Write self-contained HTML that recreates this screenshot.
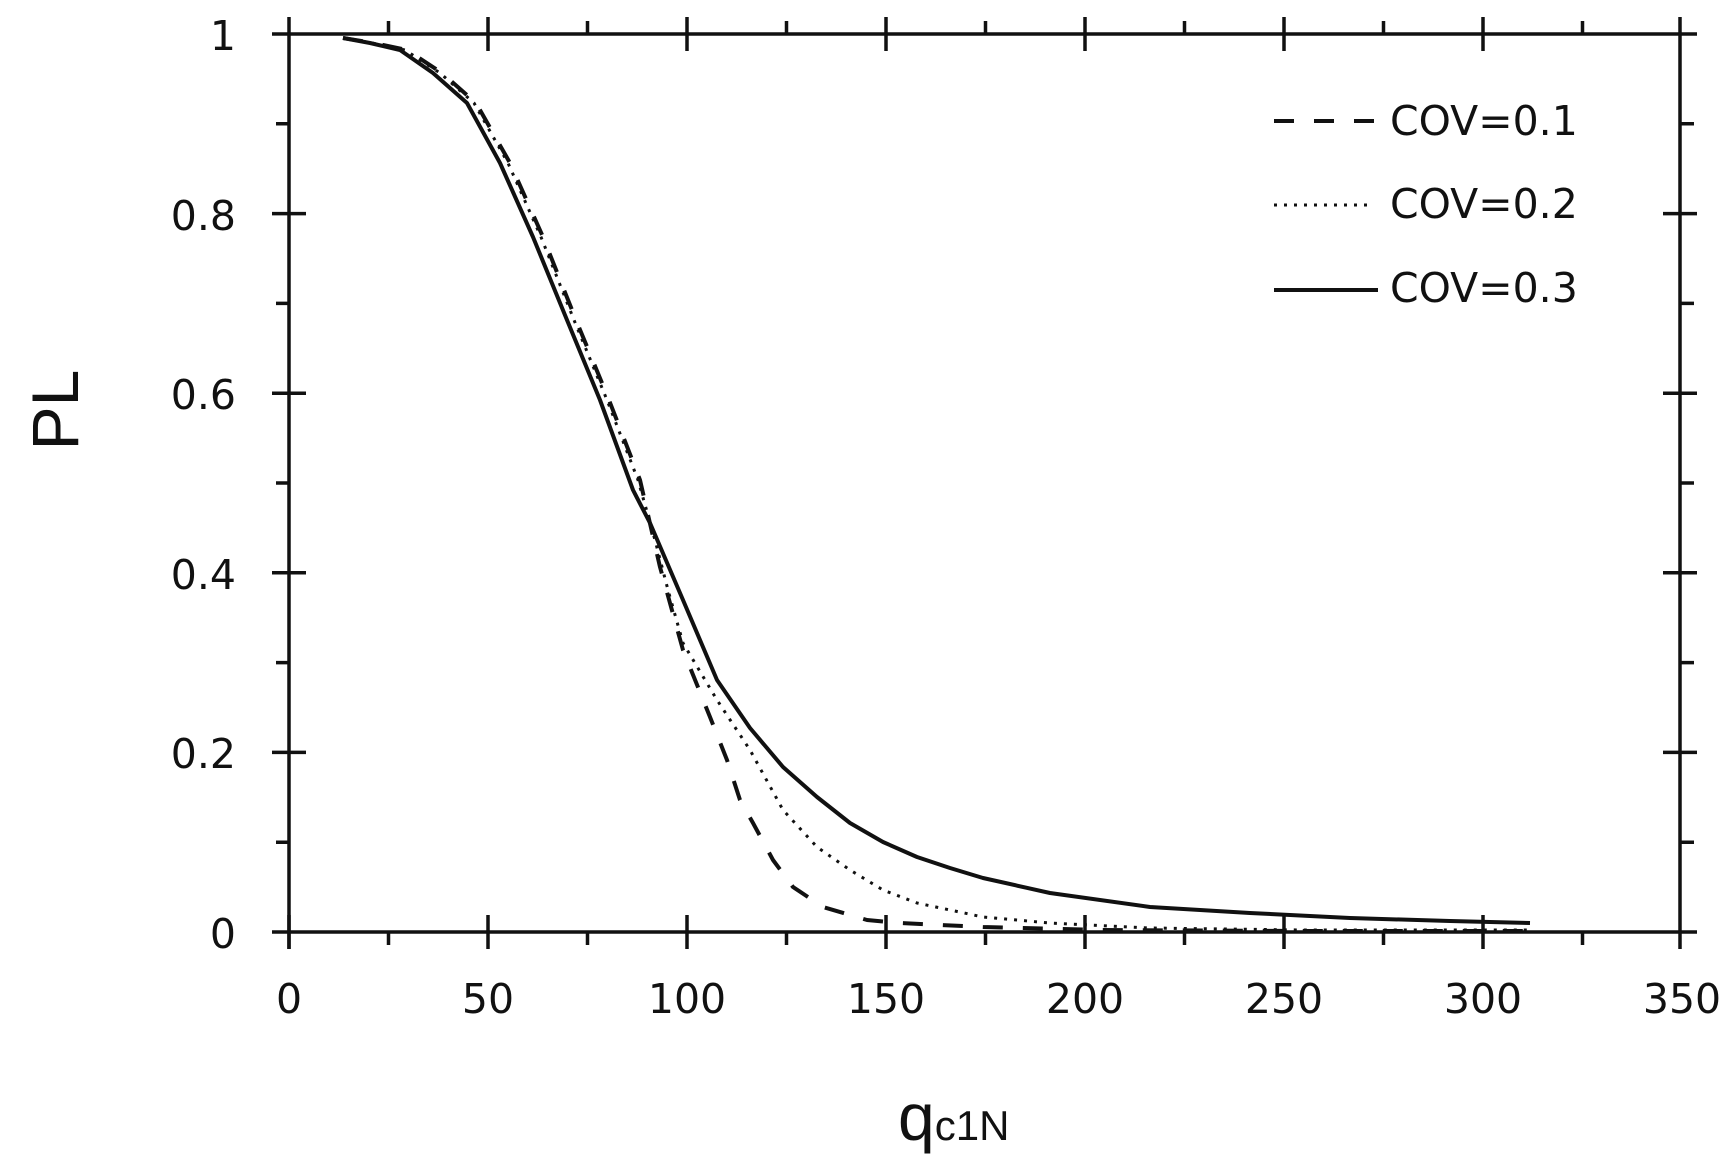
<!DOCTYPE html>
<html><head><meta charset="utf-8"><style>
html,body{margin:0;padding:0;background:#fff;}
svg{display:block;}
text{font-family:"DejaVu Sans",sans-serif;fill:#111;}
</style></head><body>
<svg width="1731" height="1174" viewBox="0 0 1731 1174" xmlns="http://www.w3.org/2000/svg">
<g stroke="#111" stroke-width="3.5" fill="none">
<line x1="272" y1="932" x2="1697" y2="932"/>
<line x1="272" y1="34" x2="1697" y2="34"/>
<line x1="289" y1="17" x2="289" y2="949"/>
<line x1="1680" y1="17" x2="1680" y2="949"/>
<!-- x major -->
<path d="M289 915V949M488 915V949M687 915V949M886 915V949M1085 915V949M1284 915V949M1483 915V949
M488 17V51M687 17V51M886 17V51M1085 17V51M1284 17V51M1483 17V51"/>
<!-- x minor -->
<path d="M388.5 932V945M587.5 932V945M786.5 932V945M985.5 932V945M1184.5 932V945M1383.5 932V945M1582.5 932V945
M388.5 21V34M587.5 21V34M786.5 21V34M985.5 21V34M1184.5 21V34M1383.5 21V34M1582.5 21V34"/>
<!-- y major -->
<path d="M272 752.4H306M272 572.8H306M272 393.2H306M272 213.6H306
M1663 752.4H1697M1663 572.8H1697M1663 393.2H1697M1663 213.6H1697"/>
<!-- y minor -->
<path d="M276 842.2H289M276 662.6H289M276 483H289M276 303.4H289M276 123.8H289
M1680 842.2H1694M1680 662.6H1694M1680 483H1694M1680 303.4H1694M1680 123.8H1694"/>
</g>
<g font-size="41" text-anchor="end">
<text x="236" y="948">0</text>
<text x="236" y="768">0.2</text>
<text x="236" y="589">0.4</text>
<text x="236" y="409">0.6</text>
<text x="236" y="230">0.8</text>
<text x="236" y="50">1</text>
</g>
<g font-size="41" text-anchor="middle">
<text x="289" y="1013">0</text>
<text x="488" y="1013">50</text>
<text x="687" y="1013">100</text>
<text x="886" y="1013">150</text>
<text x="1085" y="1013">200</text>
<text x="1284" y="1013">250</text>
<text x="1483" y="1013">300</text>
<text x="1682" y="1013">350</text>
</g>
<text transform="translate(78,410) rotate(-90)" text-anchor="middle" font-size="66" style="font-family:'Liberation Sans',sans-serif">PL</text>
<text x="898" y="1140" style="font-family:'Liberation Sans',sans-serif" font-size="66">q<tspan font-size="42">c1N</tspan></text>
<g fill="none" stroke="#111" stroke-linejoin="round" stroke-linecap="butt">
<polyline stroke-width="4" points="343,38 370,43 400,50 433,73 467,103 500,163 533,237 567,320 600,400 633,490 650,523 683,600 717,680 750,728 783,767 817,797 850,823 883,842 917,857 950,868 983,878 1050,893 1150,907 1250,913 1350,918 1450,921 1530,923"/>
<polyline stroke-width="3" stroke-dasharray="3 7" points="343,38 372,43 405,50 440,73 474,103 508,163 541,237 574,320 607,400 638,480 655,540 668,590 683,643 717,700 750,750 783,810 817,847 850,870 883,890 917,903 983,917 1050,923 1150,928 1300,930 1530,930"/>
<polyline stroke-width="4" stroke-dasharray="20 20" points="343,38 374,43 407,50 442,73 476,103 510,163 543,237 576,320 609,400 640,480 660,567 683,650 710,717 727,760 740,800 753,823 773,860 793,887 823,907 867,920 900,923 983,927 1100,930 1300,931 1530,931"/>
</g>
<g stroke="#111" fill="none">
<line x1="1274" y1="121" x2="1378" y2="121" stroke-width="4" stroke-dasharray="20 20"/>
<line x1="1274" y1="205" x2="1372" y2="205" stroke-width="3" stroke-dasharray="3 7"/>
<line x1="1274" y1="290" x2="1378" y2="290" stroke-width="4"/>
</g>
<g font-size="41">
<text x="1390" y="135">COV=0.1</text>
<text x="1390" y="218">COV=0.2</text>
<text x="1390" y="302">COV=0.3</text>
</g>
</svg>
</body></html>
